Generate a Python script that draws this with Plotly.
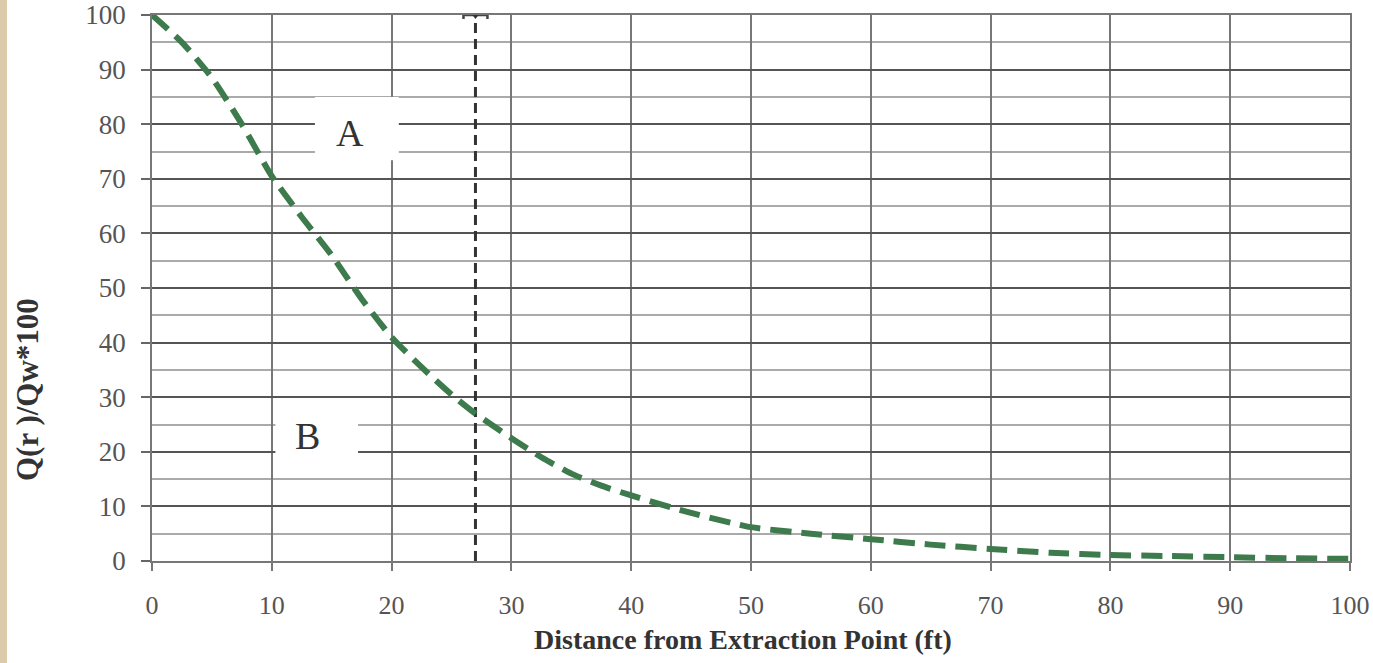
import plotly.graph_objects as go

# Data
distance_ft = [0, 2.5, 5, 7.5, 10, 12.5, 15, 17.5, 20, 22.5, 25, 27, 30, 32.5, 35, 37.5, 40,
               45, 50, 55, 60, 65, 70, 75, 80, 85, 90, 95, 100]
q_ratio = [100, 95, 88.5, 80, 70.5, 63, 56, 48, 41, 35.5, 30.5, 27, 22.5, 19, 16, 13.8, 12,
           8.8, 6.2, 5, 4, 3, 2.2, 1.5, 1.1, 0.9, 0.7, 0.5, 0.4]

marker_x = [27, 27]
marker_y = [0, 100]
marker_err = [1]

labels = ["A", "B"]
label_x = [16.5, 13.0]
label_y = [78.4, 22.9]
box_x0 = [13.6, 10.3]
box_x1 = [20.6, 17.2]
box_y0 = [73.4, 16.8]
box_y1 = [85.0, 28.6]

x_ticks = list(range(0, 101, 10))
y_ticks = list(range(0, 101, 10))

SERIF = "Liberation Serif"

fig = go.Figure()

fig.add_trace(go.Scatter(
    x=marker_x, y=marker_y, mode="lines",
    line=dict(color="#333", width=3, dash="10px,6px"),
    hoverinfo="skip", showlegend=False))

fig.add_trace(go.Scatter(
    x=[marker_x[1]], y=[marker_y[1]], mode="markers",
    marker=dict(symbol="triangle-down", size=8, color="#333"),
    error_x=dict(type="data", array=marker_err, color="#444", thickness=2.5, width=4),
    hoverinfo="skip", showlegend=False))

fig.add_trace(go.Scatter(
    x=distance_ft, y=q_ratio, mode="lines",
    line=dict(color="#3d7a4c", width=6, dash="21px,10px", shape="spline", smoothing=0.6),
    showlegend=False))

shapes = []
for i in range(len(labels)):
    shapes.append(dict(type="rect", xref="x", yref="y",
                       x0=box_x0[i], x1=box_x1[i], y0=box_y0[i], y1=box_y1[i],
                       fillcolor="white", line=dict(width=0), layer="between"))
# parchment strip at left edge
shapes.append(dict(type="rect", xref="paper", yref="paper",
                   x0=-152 / 1198, x1=-145 / 1198, y0=-102 / 546, y1=(663 - 102) / 546 + 0.05,
                   fillcolor="#dccbaa", line=dict(width=0), layer="below"))

annotations = []
for i in range(len(labels)):
    annotations.append(dict(x=label_x[i], y=label_y[i], xref="x", yref="y", text=labels[i],
                            showarrow=False, font=dict(family=SERIF, size=38, color="#333")))

annotations.append(dict(x=0.493, y=(561 - 639) / 546, xref="paper", yref="paper", yanchor="middle",
                        text="<b>Distance from Extraction Point (ft)</b>", showarrow=False,
                        font=dict(family=SERIF, size=28, color="#333")))
annotations.append(dict(x=(27 - 152) / 1198, y=(561 - 390) / 546, xref="paper", yref="paper",
                        xanchor="center", yanchor="middle",
                        text="<b>Q(r )/Qw*100</b>", showarrow=False, textangle=-90,
                        font=dict(family=SERIF, size=31, color="#333")))

fig.update_layout(
    width=1373, height=663,
    margin=dict(l=152, r=23, t=15, b=102),
    paper_bgcolor="white", plot_bgcolor="white",
    shapes=shapes, annotations=annotations,
    font=dict(family=SERIF, color="#444"),
    xaxis=dict(range=[0, 100], tickvals=x_ticks, showgrid=True, gridcolor="#777", gridwidth=1.5,
               showline=True, linecolor="#777", linewidth=1.5, mirror=True, automargin=False,
               ticks="outside", ticklen=8, tickcolor="#777", tickwidth=1.5, ticklabelstandoff=12,
               tickfont=dict(family=SERIF, size=26, color="#555"), zeroline=False),
    yaxis=dict(range=[0, 100], tickvals=y_ticks, showgrid=True, gridcolor="#555", gridwidth=1.5,
               showline=True, linecolor="#777", linewidth=1.5, mirror=True, automargin=False,
               ticks="outside", ticklen=9, tickcolor="#666", tickwidth=1.5, ticklabelstandoff=10,
               tickfont=dict(family=SERIF, size=27, color="#555"), zeroline=False,
               minor=dict(dtick=5, tick0=0, showgrid=True, gridcolor="#aaa", gridwidth=1.5, ticks="")),
)

fig.write_html("out.html", config={"displayModeBar": False},
               post_script="document.body.style.margin='0';document.body.style.overflow='hidden';")
